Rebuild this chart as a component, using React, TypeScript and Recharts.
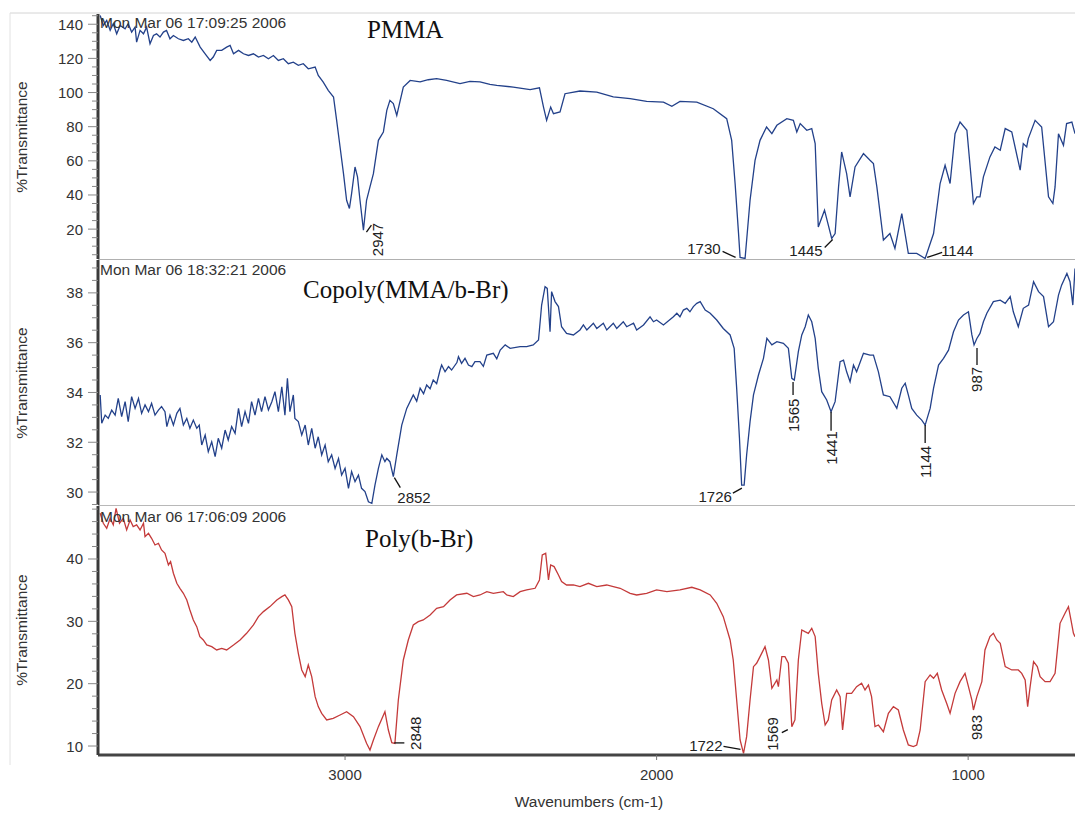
import React from "react";
import { LineChart, Line, XAxis, YAxis, ReferenceDot } from "recharts";

// wavenumber range of the plot (cm-1), high on the left
const wnDomain: [number, number] = [657, 3793];
const xTicks = [3000, 2000, 1000];

// [wavenumber, %T]
const pmma: [number, number][] = [
  [3786,145.1],[3776,139.3],[3765,142.2],[3754,136.4],[3744,140.3],[3733,134.4],[3722,139.3],[3706,137.3],[3696,140.3],[3685,135.4],
  [3674,138.3],[3669,129.5],[3658,136.4],[3647,134.4],[3637,138.3],[3626,128.6],[3615,133.4],[3605,134.4],[3594,132.5],[3583,135.4],
  [3573,136.4],[3562,131.5],[3551,133.4],[3535,131.5],[3519,130.5],[3503,131.5],[3492,129.5],[3481,132.5],[3465,126.6],[3449,122.7],
  [3433,118.8],[3423,120.8],[3412,124.7],[3396,124.7],[3380,126.6],[3369,127.6],[3358,122.7],[3342,124.7],[3326,122.7],[3310,121.7],
  [3294,122.7],[3278,120.8],[3262,121.7],[3246,119.8],[3230,121.7],[3214,118.8],[3198,119.8],[3182,116.9],[3166,117.8],[3150,115.9],
  [3134,116.9],[3118,113.9],[3096,114.9],[3086,110.0],[3070,106.1],[3054,101.3],[3037,97.4],[3027,83.7],[3016,68.1],[3005,52.5],
  [2995,36.9],[2986,32.1],[2979,40.8],[2968,56.4],[2960,50.6],[2952,36.9],[2941,19.4],[2931,36.9],[2920,44.7],[2909,52.5],
  [2893,72.0],[2877,76.9],[2866,89.6],[2856,95.4],[2845,93.5],[2834,86.6],[2813,103.2],[2791,107.1],[2759,106.2],[2733,107.5],
  [2706,108.1],[2674,107.1],[2631,105.2],[2599,106.5],[2567,106.2],[2535,104.8],[2513,104.2],[2460,103.2],[2406,101.7],[2376,102.8],
  [2363,91.5],[2353,83.7],[2340,91.5],[2331,87.6],[2310,88.6],[2294,99.3],[2246,100.9],[2192,100.3],[2139,97.4],[2085,96.4],
  [2032,94.8],[1978,94.4],[1951,91.9],[1925,94.8],[1871,94.4],[1818,90.5],[1775,84.7],[1759,72.0],[1748,46.7],[1737,17.5],
  [1732,3.4],[1716,2.8],[1700,36.9],[1684,60.3],[1668,72.0],[1647,79.8],[1630,75.9],[1614,80.8],[1582,84.7],[1561,83.7],
  [1550,76.9],[1539,81.8],[1518,77.9],[1502,78.9],[1491,70.1],[1481,21.3],[1461,31.1],[1438,14.5],[1427,17.4],[1416,44.7],
  [1406,65.2],[1390,52.5],[1379,38.9],[1363,56.4],[1336,64.2],[1315,60.3],[1304,58.4],[1293,44.7],[1272,13.6],[1251,17.4],
  [1235,8.7],[1213,29.1],[1192,5.8],[1165,5.8],[1138,2.8],[1111,17.4],[1090,46.7],[1074,57.4],[1058,46.7],[1042,75.9],
  [1026,82.7],[1004,77.9],[983,35.0],[972,38.9],[962,38.9],[951,50.6],[930,62.3],[914,68.1],[897,66.2],[881,78.9],
  [860,76.9],[833,54.5],[823,70.1],[812,68.1],[807,73.0],[785,83.7],[764,79.8],[742,38.9],[728,35.0],[721,44.7],
  [710,75.9],[694,69.1],[684,81.8],[667,82.7],[657,75.9],
];

const copoly: [number, number][] = [
  [3786,33.90],[3781,32.76],[3770,33.09],[3760,32.96],[3749,33.29],[3738,33.09],[3728,33.76],[3717,33.03],[3706,33.63],[3696,32.83],
  [3685,33.83],[3674,33.36],[3663,33.76],[3653,33.16],[3642,33.50],[3631,33.23],[3621,33.56],[3610,33.09],[3599,33.29],[3589,33.43],
  [3578,33.23],[3572,32.63],[3562,33.09],[3551,32.69],[3540,33.16],[3530,33.36],[3519,32.69],[3508,32.96],[3498,32.56],[3487,32.89],
  [3476,32.56],[3468,32.69],[3460,31.89],[3449,32.29],[3439,31.62],[3428,32.02],[3417,31.42],[3407,32.16],[3396,31.76],[3385,32.49],
  [3375,32.09],[3364,32.63],[3353,32.36],[3342,33.36],[3332,32.63],[3321,33.23],[3310,32.76],[3300,33.63],[3289,33.09],[3278,33.76],
  [3268,33.23],[3257,33.83],[3246,33.30],[3235,33.63],[3225,34.03],[3214,33.23],[3203,34.23],[3193,33.09],[3185,34.57],[3177,33.23],
  [3166,33.90],[3161,32.96],[3150,32.83],[3139,32.29],[3128,32.69],[3118,31.89],[3107,32.56],[3096,31.76],[3086,32.22],[3075,31.49],
  [3064,31.89],[3054,31.22],[3043,31.49],[3032,30.95],[3021,31.35],[3011,30.68],[3000,30.95],[2989,30.15],[2979,30.82],[2968,30.42],
  [2957,30.68],[2947,30.15],[2936,30.02],[2925,29.61],[2914,29.55],[2904,30.28],[2893,30.95],[2882,31.49],[2872,31.22],[2866,31.35],
  [2856,31.22],[2845,30.62],[2834,31.49],[2818,32.69],[2802,33.36],[2781,33.90],[2770,33.65],[2759,34.17],[2748,33.95],[2738,34.30],
  [2727,34.15],[2717,34.50],[2706,34.35],[2695,34.90],[2690,35.10],[2679,34.83],[2668,35.04],[2658,34.90],[2641,35.20],[2636,35.44],
  [2626,35.17],[2615,35.37],[2604,35.10],[2593,35.04],[2583,35.24],[2567,35.24],[2556,35.05],[2545,35.50],[2524,35.57],[2513,35.35],
  [2502,35.70],[2486,35.91],[2470,35.77],[2438,35.84],[2417,35.84],[2396,35.91],[2379,36.11],[2369,37.51],[2358,38.25],[2351,38.18],
  [2342,36.44],[2337,38.05],[2326,37.65],[2315,37.45],[2305,36.64],[2289,36.37],[2267,36.31],[2246,36.51],[2235,36.71],[2224,36.51],
  [2203,36.78],[2192,36.57],[2171,36.78],[2160,36.51],[2139,36.78],[2128,36.57],[2107,36.84],[2096,36.64],[2074,36.78],[2064,36.51],
  [2042,36.71],[2021,37.04],[2010,36.84],[2000,36.91],[1978,36.71],[1946,37.04],[1935,37.18],[1925,37.04],[1914,37.31],[1903,37.38],
  [1893,37.24],[1882,37.45],[1871,37.58],[1860,37.65],[1844,37.31],[1828,37.18],[1807,36.91],[1786,36.57],[1764,36.31],[1751,35.77],
  [1743,34.17],[1734,32.16],[1727,30.28],[1719,30.28],[1711,31.49],[1700,32.83],[1689,33.90],[1673,34.70],[1657,35.37],[1646,36.17],
  [1630,35.91],[1614,36.04],[1593,35.97],[1577,35.77],[1566,34.57],[1558,34.50],[1545,35.64],[1534,36.31],[1523,36.64],[1513,37.11],
  [1502,36.84],[1491,36.17],[1481,34.97],[1470,34.03],[1454,33.70],[1440,33.23],[1427,33.63],[1411,35.24],[1400,35.30],[1390,34.83],
  [1379,34.43],[1368,35.10],[1358,34.83],[1336,35.57],[1315,35.50],[1304,35.50],[1288,34.83],[1272,33.90],[1251,33.83],[1229,33.36],
  [1213,34.17],[1202,34.37],[1192,33.90],[1181,33.36],[1165,33.09],[1149,32.89],[1138,32.69],[1122,33.36],[1111,34.17],[1095,35.10],
  [1079,35.37],[1063,35.70],[1047,36.44],[1031,36.91],[1015,37.11],[999,37.24],[988,36.31],[981,35.91],[972,36.17],[962,36.37],
  [951,36.84],[940,37.18],[919,37.65],[897,37.71],[881,37.58],[865,37.85],[855,37.24],[839,36.64],[823,37.38],[806,37.51],
  [790,38.45],[774,38.05],[758,37.85],[742,36.64],[726,36.84],[710,37.91],[700,38.31],[683,38.78],[673,38.45],[664,37.51],
  [657,38.98],
];

const polyBr: [number, number][] = [
  [3786,47.33],[3776,45.73],[3765,44.92],[3754,46.53],[3744,45.46],[3735,48.13],[3724,45.73],[3712,46.53],[3701,44.66],[3690,46.26],
  [3680,45.19],[3669,45.46],[3658,44.66],[3647,45.73],[3642,43.59],[3631,44.12],[3621,43.32],[3610,42.25],[3599,42.52],[3589,41.45],
  [3578,40.91],[3567,39.04],[3560,39.58],[3551,37.71],[3540,36.10],[3530,35.30],[3519,34.50],[3508,33.43],[3498,31.82],[3487,30.22],
  [3476,29.15],[3466,27.55],[3455,27.01],[3444,26.21],[3428,25.94],[3412,25.41],[3396,25.67],[3380,25.41],[3358,26.21],[3337,27.01],
  [3316,28.08],[3294,29.42],[3278,30.75],[3262,31.56],[3241,32.36],[3219,33.43],[3203,33.96],[3193,34.23],[3182,33.43],[3171,32.36],
  [3161,28.08],[3150,24.87],[3139,22.20],[3128,21.13],[3118,23.00],[3107,21.13],[3096,17.92],[3086,16.32],[3075,15.25],[3059,14.18],
  [3038,14.44],[3016,14.98],[2995,15.51],[2973,14.71],[2952,13.11],[2931,10.43],[2920,9.36],[2909,10.97],[2893,13.11],[2872,15.51],
  [2861,12.57],[2850,10.54],[2840,10.43],[2829,17.38],[2813,23.80],[2797,27.01],[2781,29.42],[2765,29.95],[2749,30.22],[2727,31.02],
  [2706,32.09],[2684,32.36],[2663,33.43],[2642,34.23],[2609,34.50],[2588,33.96],[2567,34.23],[2545,34.76],[2524,34.50],[2492,34.76],
  [2481,34.23],[2460,33.96],[2438,34.76],[2417,35.03],[2390,35.30],[2376,36.64],[2367,40.65],[2356,40.91],[2347,36.64],[2340,39.04],
  [2329,38.78],[2315,37.44],[2305,36.37],[2289,35.83],[2267,35.83],[2246,35.57],[2219,36.10],[2192,35.57],[2160,35.83],[2139,35.57],
  [2117,35.30],[2085,34.50],[2064,34.23],[2032,34.50],[2000,35.03],[1967,34.76],[1925,35.03],[1887,35.46],[1860,35.03],[1828,34.23],
  [1807,32.89],[1786,30.75],[1764,27.01],[1754,23.80],[1743,17.38],[1732,10.97],[1721,8.83],[1711,11.50],[1700,17.38],[1689,22.73],
  [1679,23.27],[1668,24.34],[1652,25.94],[1641,23.80],[1630,19.26],[1614,20.59],[1609,19.52],[1598,24.34],[1588,24.34],[1577,23.27],
  [1566,13.11],[1556,14.18],[1545,23.80],[1534,28.62],[1524,28.35],[1513,28.08],[1502,28.88],[1491,27.55],[1481,21.66],[1470,16.85],
  [1459,13.37],[1449,14.18],[1438,17.38],[1422,18.99],[1411,17.92],[1403,12.57],[1390,18.45],[1374,18.45],[1358,19.52],[1342,20.06],
  [1331,18.99],[1320,19.79],[1310,17.92],[1299,13.11],[1288,13.37],[1272,12.30],[1256,15.25],[1240,16.32],[1224,15.78],[1208,12.57],
  [1192,10.17],[1176,9.90],[1165,10.17],[1154,12.57],[1138,20.33],[1122,21.40],[1111,20.86],[1099,21.66],[1085,18.99],[1069,16.85],
  [1058,15.25],[1042,18.45],[1026,20.33],[1010,21.66],[999,19.52],[988,17.38],[983,15.78],[972,17.92],[956,20.33],[946,25.41],
  [930,27.55],[919,28.08],[908,27.01],[897,26.48],[881,22.73],[860,22.20],[839,22.20],[828,21.66],[817,20.59],[809,16.32],
  [801,19.52],[790,23.53],[778,22.73],[769,21.13],[753,20.33],[737,20.33],[721,21.66],[705,29.68],[689,31.29],[678,32.36],
  [670,30.22],[662,28.08],[657,27.54],
];

const pmmaTicks = [20, 40, 60, 80, 100, 120, 140];
const copolyTicks = [30, 32, 34, 36, 38];
const polyTicks = [10, 20, 30, 40];

type Peak = { label: string; wn: number; t: number };

const pmmaPeaks: Peak[] = [
  { label: "2947", wn: 2941, t: 19.4 },
  { label: "1730", wn: 1724, t: 3.4 },
  { label: "1445", wn: 1438, t: 14.5 },
  { label: "1144", wn: 1138, t: 2.8 },
];
const copolyPeaks: Peak[] = [
  { label: "2852", wn: 2845, t: 30.62 },
  { label: "1726", wn: 1723, t: 30.28 },
  { label: "1565", wn: 1562, t: 34.5 },
  { label: "1441", wn: 1440, t: 33.23 },
  { label: "1144", wn: 1138, t: 32.69 },
  { label: "987", wn: 978, t: 35.91 },
];
const polyPeaks: Peak[] = [
  { label: "2848", wn: 2845, t: 10.5 },
  { label: "1722", wn: 1721, t: 8.83 },
  { label: "1569", wn: 1566, t: 13.11 },
  { label: "983", wn: 983, t: 15.78 },
];

// how each peak label sits around its point (pixel offsets)
type Lay = { line?: number[]; dx: number; dy: number; rot?: boolean; anchor?: "start" | "end" };
const pmmaLay: Record<string, Lay> = {
  "2947": { line: [3, 2, 8, -5], dx: 14, dy: 26, rot: true },
  "1730": { line: [-7, 0, -20, -6], dx: -22, dy: -3, anchor: "end" },
  "1445": { line: [-7, 9, 1, 1], dx: -9, dy: 17, anchor: "end" },
  "1144": { line: [2, -1, 17, -6], dx: 16, dy: -2, anchor: "start" },
};
const copolyLay: Record<string, Lay> = {
  "2852": { line: [1, 1, 7, 11], dx: 4, dy: 26, anchor: "start" },
  "1726": { line: [-10, 8, -1, 3], dx: -11, dy: 17, anchor: "end" },
  "1565": { line: [0, 2, 0, 15], dx: 0, dy: 52, rot: true },
  "1441": { line: [0, 0, 0, 19], dx: 0, dy: 53, rot: true },
  "1144": { line: [0, 0, 0, 18], dx: 0, dy: 53, rot: true },
  "987": { line: [2, 3, 2, 20], dx: 2, dy: 47, rot: true },
};
const polyLay: Record<string, Lay> = {
  "2848": { line: [1, 0, 11, 0], dx: 22, dy: 7, rot: true },
  "1722": { line: [-20, -7, -3, -4], dx: -21, dy: -2, anchor: "end" },
  "1569": { line: [-10, 6, -4, 3], dx: -19, dy: 24, rot: true },
  "983": { dx: 3, dy: 30, rot: true },
};

const SANS = "'Liberation Sans', Arial, sans-serif";
const SERIF = "'Liberation Serif', 'Times New Roman', serif";
const BLUE = "#23418a";
const RED = "#c43a3a";

function PeakMark({ cx, cy, label, lay }: { cx: number; cy: number; label: string; lay: Lay }) {
  const tx = cx + lay.dx;
  const ty = cy + lay.dy;
  return (
    <g>
      {lay.line && (
        <line
          x1={cx + lay.line[0]}
          y1={cy + lay.line[1]}
          x2={cx + lay.line[2]}
          y2={cy + lay.line[3]}
          stroke="#111"
          strokeWidth={1.3}
        />
      )}
      {lay.rot ? (
        <text
          x={tx}
          y={ty}
          transform={`rotate(-90 ${tx} ${ty})`}
          textAnchor="start"
          dominantBaseline="central"
          fontSize={15}
          fontFamily={SANS}
          fill="#222"
        >
          {label}
        </text>
      ) : (
        <text x={tx} y={ty} textAnchor={lay.anchor} fontSize={15} fontFamily={SANS} fill="#222">
          {label}
        </text>
      )}
    </g>
  );
}

function YTick(props: any) {
  const { x, y, payload, major } = props;
  const v = payload.value;
  const isMajor = major.some((m: number) => Math.abs(m - v) < 1e-6);
  const axisX = x + 15;
  return (
    <g>
      <line x1={axisX - (isMajor ? 10 : 6)} x2={axisX} y1={y} y2={y} stroke="#888" strokeWidth={1} />
      {isMajor && (
        <text x={x} y={y} textAnchor="end" dominantBaseline="central" fontSize={15} fontFamily={SANS} fill="#333">
          {v}
        </text>
      )}
    </g>
  );
}

interface PanelProps {
  rows: [number, number][];
  yDomain: [number, number];
  major: number[];
  minorStep: number;
  color: string;
  peaks: Peak[];
  lay: Record<string, Lay>;
  top: number;
  height: number;
  marginTop: number;
  withX?: boolean;
}

function Panel({ rows, yDomain, major, minorStep, color, peaks, lay, top, height, marginTop, withX }: PanelProps) {
  const data = rows.map(([wn, t]) => ({ wn, t }));
  const minor: number[] = [];
  for (let v = Math.ceil(yDomain[0] / minorStep) * minorStep; v <= yDomain[1]; v += minorStep) {
    minor.push(Math.round(v * 100) / 100);
  }
  return (
    <div style={{ position: "absolute", left: 0, top, width: 1075, height }}>
      <LineChart
        width={1075}
        height={height}
        data={data}
        margin={{ top: marginTop, right: 0, bottom: 0, left: 0 }}
        style={{ overflow: "visible" }}
      >
        <XAxis
          dataKey="wn"
          type="number"
          domain={wnDomain}
          reversed
          allowDataOverflow
          ticks={xTicks}
          hide={!withX}
          height={58}
          tickSize={5}
          tickMargin={9}
          axisLine={{ stroke: "#444", strokeWidth: 3 }}
          tickLine={{ stroke: "#777" }}
          tick={{ fontSize: 15, fill: "#333", fontFamily: SANS }}
        />
        <YAxis
          type="number"
          domain={yDomain}
          allowDataOverflow
          width={98}
          ticks={minor}
          interval={0}
          tickSize={10}
          tickMargin={5}
          tickLine={false}
          axisLine={{ stroke: "#3a3a3a", strokeWidth: 3 }}
          tick={(p: any) => <YTick {...p} major={major} />}
        />
        <Line
          dataKey="t"
          type="linear"
          stroke={color}
          strokeWidth={1.3}
          dot={false}
          isAnimationActive={false}
        />
        {peaks.map((p) => (
          <ReferenceDot
            key={p.label}
            x={p.wn}
            y={p.t}
            r={0}
            ifOverflow="visible"
            shape={(s: any) => <PeakMark cx={s.cx} cy={s.cy} label={p.label} lay={lay[p.label]} />}
          />
        ))}
      </LineChart>
    </div>
  );
}

export default function App() {
  const yLab = (cy: number) => (
    <text
      x={21}
      y={cy}
      transform={`rotate(-90 21 ${cy})`}
      textAnchor="middle"
      dominantBaseline="central"
      fontSize={15.5}
      fontFamily={SANS}
      fill="#333"
    >
      %Transmittance
    </text>
  );
  return (
    <div
      style={{
        position: "absolute",
        left: 0,
        top: 0,
        width: 1075,
        height: 813,
        background: "#fff",
        overflow: "hidden",
      }}
    >
      <Panel
        rows={pmma}
        yDomain={[2.5, 146]}
        major={pmmaTicks}
        minorStep={5}
        color={BLUE}
        peaks={pmmaPeaks}
        lay={pmmaLay}
        top={0}
        height={259}
        marginTop={14}
      />
      <Panel
        rows={copoly}
        yDomain={[29.48, 39.32]}
        major={copolyTicks}
        minorStep={0.5}
        color={BLUE}
        peaks={copolyPeaks}
        lay={copolyLay}
        top={260}
        height={245}
        marginTop={0}
      />
      <Panel
        rows={polyBr}
        yDomain={[8.56, 48.5]}
        major={polyTicks}
        minorStep={2}
        color={RED}
        peaks={polyPeaks}
        lay={polyLay}
        top={505}
        height={308}
        marginTop={1}
        withX
      />
      <svg
        width={1075}
        height={813}
        style={{ position: "absolute", left: 0, top: 0, pointerEvents: "none" }}
      >
        <line x1={10} y1={13} x2={1075} y2={13} stroke="#d4d4d4" />
        <line x1={10} y1={13} x2={10} y2={765} stroke="#e2e2e2" />
        <line x1={98} y1={259.5} x2={1075} y2={259.5} stroke="#b0b0b0" />
        <line x1={98} y1={505.5} x2={1075} y2={505.5} stroke="#b8b8b8" />

        <text x={100} y={28} fontSize={15.5} fontFamily={SANS} fill="#333">Mon Mar 06 17:09:25 2006</text>
        <text x={100} y={275} fontSize={15.5} fontFamily={SANS} fill="#333">Mon Mar 06 18:32:21 2006</text>
        <text x={100} y={522} fontSize={15.5} fontFamily={SANS} fill="#333">Mon Mar 06 17:06:09 2006</text>

        <text x={367} y={38} fontSize={25} fontFamily={SERIF} fill="#111">PMMA</text>
        <text x={303} y={298} fontSize={25} fontFamily={SERIF} fill="#111">Copoly(MMA/b-Br)</text>
        <text x={365} y={547} fontSize={25} fontFamily={SERIF} fill="#111">Poly(b-Br)</text>

        {yLab(137)}
        {yLab(383)}
        {yLab(630)}

        <text x={589} y={807} textAnchor="middle" fontSize={15.5} fontFamily={SANS} fill="#333">
          Wavenumbers (cm-1)
        </text>
      </svg>
    </div>
  );
}
